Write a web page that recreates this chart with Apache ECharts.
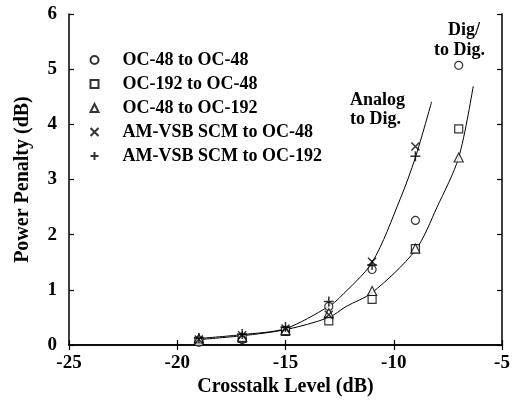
<!DOCTYPE html>
<html>
<head>
<meta charset="utf-8">
<script src="https://cdn.jsdelivr.net/npm/echarts@6/dist/echarts.min.js"></script>
<style>html,body{margin:0;padding:0;background:#fff}#c{width:513px;height:402px}</style>
</head>
<body>
<div id="c"></div>
<script>
// Crosstalk levels (dB) of the measured points
var xLevels = [-19, -17, -15, -13, -11, -9, -7];
var xLevelsAnalog = [-19, -17, -15, -13, -11, -9];
// Power penalty (dB) per series
var oc48ToOc48   = [0.05, 0.10, 0.25, 0.70, 1.37, 2.26, 5.07];
var oc192ToOc48  = [0.07, 0.12, 0.25, 0.44, 0.83, 1.75, 3.92];
var oc48ToOc192  = [0.12, 0.15, 0.27, 0.58, 0.98, 1.75, 3.40];
var amvsbToOc48  = [0.10, 0.18, 0.30, 0.55, 1.51, 3.60];
var amvsbToOc192 = [0.13, 0.20, 0.33, 0.79, 1.45, 3.42];
// Fitted curves
var analogCurveX = [-19, -17, -15, -13, -12.5, -11, -9.7, -9, -8.25];
var analogCurveY = [0.12, 0.19, 0.30, 0.70, 0.86, 1.50, 2.65, 3.40, 4.41];
var digCurveX = [-19, -17, -15, -13, -12.2, -11, -9, -8, -7, -6.33];
var digCurveY = [0.10, 0.17, 0.28, 0.50, 0.70, 0.95, 1.72, 2.50, 3.40, 4.69];
// Axis ticks
var xTicks = {min: -25, max: -5, interval: 5};
var yTicks = {min: 0, max: 6, interval: 1};
var seriesNames = ['OC-48 to OC-48', 'OC-192 to OC-48', 'OC-48 to OC-192', 'AM-VSB SCM to OC-48', 'AM-VSB SCM to OC-192'];

function zip(xs, ys) { return xs.map(function (x, i) { return [x, ys[i]]; }); }

var FONT = "'Liberation Serif', 'Times New Roman', serif";
var crossPath = 'path://M0,0L10,10M10,0L0,10';
var plusPath = 'path://M5,0L5,10M0,5L10,5';

function scatter(name, xs, ys, symbol, size) {
  return {
    name: name, type: 'scatter', data: zip(xs, ys), symbol: symbol, symbolSize: size,
    itemStyle: {color: '#fff', borderColor: '#000', borderWidth: 1.2}, z: 5
  };
}
function pathScatter(name, xs, ys, symbol, size) {
  return {
    name: name, type: 'scatter', data: zip(xs, ys), symbol: symbol, symbolSize: size,
    itemStyle: {color: 'none', borderColor: '#000', borderWidth: 1.5}, z: 5
  };
}

var chart = echarts.init(document.getElementById('c'), null, {renderer: 'canvas'});
var axisCommon = {
  axisLine: {show: true, lineStyle: {color: '#000', width: 1.5}},
  axisTick: {show: true, inside: true, length: 5, lineStyle: {color: '#000', width: 1.2}},
  splitLine: {show: false}
};
chart.setOption({
  backgroundColor: '#fff',
  animation: false,
  grid: {left: 69, right: 11, top: 14, bottom: 55},
  legend: {
    data: seriesNames, orient: 'vertical', left: 83, top: 43,
    itemWidth: 8, itemHeight: 8, itemGap: 0,
    textStyle: {fontFamily: FONT, fontWeight: 'bold', fontSize: 18, color: '#000', lineHeight: 24, padding: [0, 0, 0, 19]}
  },
  xAxis: [
    Object.assign({
      type: 'value', min: xTicks.min, max: xTicks.max, interval: xTicks.interval,
      name: 'Crosstalk Level (dB)', nameLocation: 'middle', nameGap: 30,
      nameTextStyle: {fontFamily: FONT, fontWeight: 'bold', fontSize: 20, color: '#000'},
      axisLabel: {fontFamily: FONT, fontWeight: 'bold', fontSize: 19, color: '#000', margin: 8}
    }, axisCommon),
    Object.assign({
      type: 'value', position: 'top', min: xTicks.min, max: xTicks.max, interval: xTicks.interval,
      axisLabel: {show: false}
    }, axisCommon)
  ],
  yAxis: [
    Object.assign({
      type: 'value', min: yTicks.min, max: yTicks.max, interval: yTicks.interval,
      name: 'Power Penalty (dB)', nameLocation: 'middle', nameGap: 36, nameRotate: 90,
      nameTextStyle: {fontFamily: FONT, fontWeight: 'bold', fontSize: 20, color: '#000'},
      axisLabel: {fontFamily: FONT, fontWeight: 'bold', fontSize: 19, color: '#000', margin: 12}
    }, axisCommon),
    Object.assign({
      type: 'value', position: 'right', min: yTicks.min, max: yTicks.max, interval: yTicks.interval,
      axisLabel: {show: false}
    }, axisCommon)
  ],
  series: [
    {type: 'line', data: zip(analogCurveX, analogCurveY), smooth: 0.3, symbol: 'none',
     lineStyle: {color: '#000', width: 1}, z: 2, silent: true},
    {type: 'line', data: zip(digCurveX, digCurveY), smooth: 0.3, symbol: 'none',
     lineStyle: {color: '#000', width: 1}, z: 2, silent: true},
    scatter(seriesNames[0], xLevels, oc48ToOc48, 'circle', 8),
    scatter(seriesNames[1], xLevels, oc192ToOc48, 'rect', 8),
    scatter(seriesNames[2], xLevels, oc48ToOc192, 'triangle', 9),
    pathScatter(seriesNames[3], xLevelsAnalog, amvsbToOc48, crossPath, 8),
    pathScatter(seriesNames[4], xLevelsAnalog, amvsbToOc192, plusPath, 10)
  ],
  graphic: [
    {type: 'text', left: 448, top: 21, style: {text: 'Dig/', font: 'bold 18px ' + FONT, fill: '#000'}},
    {type: 'text', left: 434, top: 41, style: {text: 'to Dig.', font: 'bold 18px ' + FONT, fill: '#000'}},
    {type: 'text', left: 350, top: 91, style: {text: 'Analog', font: 'bold 18px ' + FONT, fill: '#000'}},
    {type: 'text', left: 350, top: 110, style: {text: 'to Dig.', font: 'bold 18px ' + FONT, fill: '#000'}}
  ]
});
</script>
</body>
</html>
